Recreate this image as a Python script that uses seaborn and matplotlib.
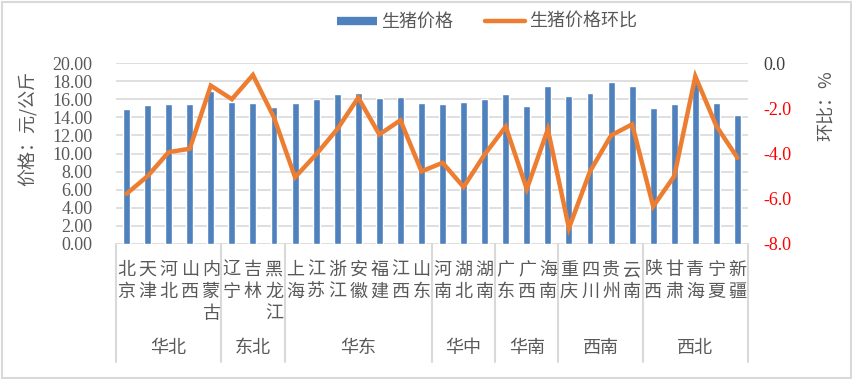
import numpy as np
import pandas as pd
import matplotlib
matplotlib.use("Agg")
import matplotlib.pyplot as plt
import seaborn as sns
from matplotlib.lines import Line2D
from matplotlib.patches import Rectangle
from matplotlib.transforms import blended_transform_factory

provinces = [
    "北京", "天津", "河北", "山西", "内蒙古",
    "辽宁", "吉林", "黑龙江",
    "上海", "江苏", "浙江", "安徽", "福建", "江西", "山东",
    "河南", "湖北", "湖南",
    "广东", "广西", "海南",
    "重庆", "四川", "贵州", "云南",
    "陕西", "甘肃", "青海", "宁夏", "新疆",
]
regions = ["华北", "东北", "华东", "华中", "华南", "西南", "西北"]
region_sizes = [5, 3, 7, 3, 3, 4, 5]

price = [
    14.90, 15.33, 15.44, 15.44, 16.90,
    15.70, 15.56, 15.10,
    15.56, 16.00, 16.56, 16.67, 16.10, 16.20, 15.56,
    15.44, 15.70, 16.00,
    16.56, 15.20, 17.44,
    16.33, 16.67, 17.93, 17.44,
    15.00, 15.44, 18.00, 15.56, 14.20,
]
change = [
    -5.78, -5.00, -3.94, -3.79, -1.00,
    -1.60, -0.53, -2.41,
    -5.05, -4.04, -2.93, -1.53, -3.16, -2.53, -4.79,
    -4.41, -5.48, -4.04,
    -2.81, -5.57, -2.93,
    -7.30, -4.79, -3.20, -2.71,
    -6.34, -5.00, -0.59, -2.79, -4.19,
]

left_ticks = np.arange(0, 21, 2)
right_ticks = np.arange(-8, 1, 2)

BLUE = "#4F81BD"
ORANGE = "#ED7D31"
GRID = "#d9d9d9"
TEXT = "#595959"

sns.set_style("white")
plt.rcParams["font.family"] = ["Noto Sans CJK SC", "DejaVu Sans"]
plt.rcParams["axes.unicode_minus"] = False

W, H = 852, 379
fig = plt.figure(figsize=(W / 100, H / 100), dpi=100)
x0, x1, y_top, y_bot = 116, 748, 63, 244
ax = fig.add_axes([x0 / W, 1 - y_bot / H, (x1 - x0) / W, (y_bot - y_top) / H])

df = pd.DataFrame({"province": provinces, "price": price, "change": change})
sns.barplot(data=df, x="province", y="price", color=BLUE, saturation=1,
            width=0.33, ax=ax)
ax.set_xlim(-0.5, len(provinces) - 0.5)
ax.set_ylim(0, 20)
ax.set_yticks(left_ticks)
ax.set_yticklabels([f"{v:.2f}" for v in left_ticks], family="Liberation Serif",
                   fontsize=13, color=TEXT)
ax.tick_params(axis="y", length=0, pad=17)
ax.set_xticks([])
ax.set_xlabel("")
ax.set_ylabel("")
ax.yaxis.grid(True, color=GRID, linewidth=1.2)
ax.set_axisbelow(True)
sns.despine(ax=ax, left=True, bottom=True)

ax2 = ax.twinx()
sns.lineplot(x=np.arange(len(provinces)), y=change, color=ORANGE,
             linewidth=3.2, ax=ax2, solid_joinstyle="miter")
ax2.set_ylim(-8, 0)
ax2.set_yticks(right_ticks)
ax2.set_yticklabels([f"{v:.1f}" for v in right_ticks], family="Liberation Serif",
                    fontsize=13)
for lab, v in zip(ax2.get_yticklabels(), right_ticks):
    lab.set_color("#FF0000" if v < 0 else "#404040")
ax2.tick_params(axis="y", length=0, pad=11)
for s in ax2.spines.values():
    s.set_visible(False)
ax2.set_xlim(-0.5, len(provinces) - 0.5)

# multi-level category axis
tr = blended_transform_factory(ax.transData, ax.transAxes)
ah = y_bot - y_top
for i, name in enumerate(provinces):
    for j, ch in enumerate(name):
        ax.text(i, -(270 - y_bot + 22 * j) / ah, ch, transform=tr,
                ha="center", va="center", fontsize=13, color=TEXT)

bounds = np.concatenate([[0], np.cumsum(region_sizes)])
for k, reg in enumerate(regions):
    mid = (bounds[k] + bounds[k + 1] - 1) / 2
    ax.text(mid, -(348 - y_bot) / ah, reg, transform=tr, ha="center",
            va="center", fontsize=13, color=TEXT)
for b in bounds:
    ax.add_line(Line2D([b - 0.5, b - 0.5], [0, -(362 - y_bot) / ah],
                       transform=tr, color=GRID, linewidth=1.5,
                       clip_on=False))

fig.text(28 / W, 1 - 128 / H, "价格：元/公斤", rotation=90, ha="center",
         va="center", fontsize=13, color=TEXT)
fig.text(827 / W, 1 - 106 / H, "环比：%", rotation=90, ha="center",
         va="center", fontsize=13, color=TEXT)

handles = [
    Line2D([], [], color=BLUE, linewidth=6, solid_capstyle="butt"),
    Line2D([], [], color=ORANGE, linewidth=3.2, solid_capstyle="round"),
]
leg = fig.legend(handles, ["生猪价格", "生猪价格环比"], loc="center",
                 bbox_to_anchor=(487 / W, 1 - 22 / H), ncol=2, frameon=False,
                 fontsize=13, handlelength=2.2, handletextpad=0.2,
                 columnspacing=1.8)
for t in leg.get_texts():
    t.set_color(TEXT)

fig.patches.append(Rectangle((1.5 / W, 1.5 / H), 1 - 3 / W, 1 - 3 / H,
                             transform=fig.transFigure, fill=False,
                             edgecolor=GRID, linewidth=1.5))

fig.savefig("out.png", dpi=100)
